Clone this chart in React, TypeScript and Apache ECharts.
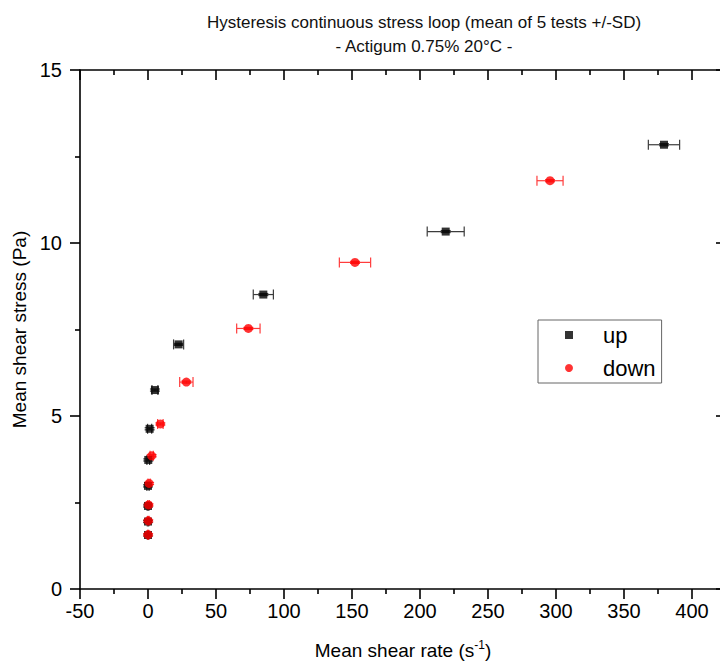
import React, { useEffect, useRef } from 'react';
import * as echarts from 'echarts';

// ---- data ----
const upX = [0, 0, 0, 0, 0.2, 1.2, 5.1, 22.5, 84.8, 218.9, 379.4];
const upY = [1.56, 1.95, 2.4, 2.98, 3.73, 4.63, 5.75, 7.07, 8.51, 10.33, 12.84];
const upXErr = [0.5, 0.5, 0.6, 0.8, 1.0, 1.5, 2.2, 3.7, 7.4, 13.6, 11.5];
const upYErr = [0.03, 0.03, 0.03, 0.03, 0.03, 0.03, 0.03, 0.03, 0.03, 0.03, 0.03];

const downX = [295.6, 152.2, 73.8, 28.2, 9.1, 2.7, 0.8, 0.4, 0.2, 0.1];
const downY = [11.8, 9.44, 7.53, 5.98, 4.77, 3.85, 3.05, 2.43, 1.97, 1.57];
const downXErr = [9.6, 11.5, 8.6, 4.9, 2.0, 1.2, 0.8, 0.6, 0.5, 0.4];
const downYErr = [0.03, 0.03, 0.03, 0.03, 0.03, 0.03, 0.03, 0.03, 0.03, 0.03];

const xMajorTicks = [-50, 0, 50, 100, 150, 200, 250, 300, 350, 400];
const xMinorTicks = [-25, 25, 75, 125, 175, 225, 275, 325, 375];

const FONT = '"Liberation Sans", Arial, Helvetica, sans-serif';
const AXIS_COLOR = '#000';
const LW = 1.6;

function errorBarSeries(xs: number[], ys: number[], xe: number[], ye: number[], color: string) {
  return {
    type: 'custom',
    xAxisIndex: 0,
    yAxisIndex: 0,
    silent: true,
    encode: { x: 0, y: 1 },
    data: xs.map((x, i) => [x, ys[i], xe[i], ye[i]]),
    renderItem: (_params: any, api: any) => {
      const x = api.value(0);
      const y = api.value(1);
      const ex = api.value(2);
      const ey = api.value(3);
      const l = api.coord([x - ex, y]);
      const r = api.coord([x + ex, y]);
      const t = api.coord([x, y + ey]);
      const b = api.coord([x, y - ey]);
      const cap = 5;
      const style = { stroke: color, lineWidth: 1.2, fill: 'none' };
      const ln = (x1: number, y1: number, x2: number, y2: number) => ({
        type: 'line',
        shape: { x1, y1, x2, y2 },
        style,
      });
      return {
        type: 'group',
        children: [
          ln(l[0], l[1], r[0], r[1]),
          ln(l[0], l[1] - cap, l[0], l[1] + cap),
          ln(r[0], r[1] - cap, r[0], r[1] + cap),
          ln(t[0], t[1], b[0], b[1]),
          ln(t[0] - cap, t[1], t[0] + cap, t[1]),
          ln(b[0] - cap, b[1], b[0] + cap, b[1]),
        ],
      };
    },
  };
}

const lineStyle = { color: AXIS_COLOR, width: LW };

export default function App() {
  const ref = useRef<HTMLDivElement>(null);

  useEffect(() => {
    if (!ref.current) return;
    const chart = echarts.init(ref.current, null, { renderer: 'svg' });

    const xBase = {
      type: 'value',
      min: -50,
      max: 425,
      splitLine: { show: false },
      minorSplitLine: { show: false },
    };

    const option: any = {
      animation: false,
      backgroundColor: '#fff',
      title: {
        text: 'Hysteresis continuous stress loop (mean of 5 tests +/-SD)\n- Actigum 0.75% 20°C -',
        left: 424,
        top: 10,
        padding: 0,
        textAlign: 'center',
        textStyle: {
          fontFamily: FONT,
          fontSize: 17,
          fontWeight: 'normal',
          lineHeight: 24,
          color: '#111',
        },
      },
      legend: {
        orient: 'vertical',
        left: 538,
        top: 320,
        padding: [2, 6, 2, 27],
        itemWidth: 8,
        itemHeight: 8,
        itemGap: 7,
        borderColor: '#666',
        borderWidth: 1,
        backgroundColor: '#fff',
        data: ['up', 'down'],
        textStyle: {
          fontFamily: FONT,
          fontSize: 22,
          lineHeight: 26,
          color: '#000',
          padding: [0, 0, 0, 25],
        },
      },
      grid: {
        left: 80,
        top: 70,
        right: 14,
        bottom: 77,
        containLabel: false,
        outerBoundsMode: 'none',
      },
      xAxis: [
        {
          ...xBase,
          position: 'bottom',
          axisLine: { show: true, onZero: false, lineStyle },
          axisTick: { show: true, customValues: xMajorTicks, length: 10, lineStyle },
          axisLabel: {
            customValues: xMajorTicks,
            fontFamily: FONT,
            fontSize: 20,
            color: '#000',
            margin: 12,
          },
          name: 'Mean shear rate (s{sup|-1})',
          nameLocation: 'middle',
          nameGap: 50,
          nameTextStyle: {
            fontFamily: FONT,
            fontSize: 19,
            color: '#000',
            lineHeight: 22,
            padding: [0, 0, 0, 0],
            rich: {
              sup: { fontFamily: FONT, fontSize: 12, color: '#000', verticalAlign: 'top', lineHeight: 12 },
            },
          },
        },
        {
          ...xBase,
          position: 'bottom',
          axisLine: { show: false, onZero: false },
          axisTick: { show: true, customValues: xMinorTicks, length: 5, lineStyle },
          axisLabel: { show: false },
        },
        {
          ...xBase,
          position: 'top',
          axisLine: { show: true, onZero: false, lineStyle },
          axisTick: { show: true, inside: true, customValues: xMajorTicks, length: 10, lineStyle },
          axisLabel: { show: false },
        },
        {
          ...xBase,
          position: 'top',
          axisLine: { show: false, onZero: false },
          axisTick: { show: true, inside: true, customValues: xMinorTicks, length: 5, lineStyle },
          axisLabel: { show: false },
        },
      ],
      yAxis: [
        {
          type: 'value',
          position: 'left',
          min: 0,
          max: 15,
          interval: 5,
          axisLine: { show: true, onZero: false, lineStyle },
          axisTick: { show: true, length: 10, lineStyle },
          minorTick: { show: true, splitNumber: 2, length: 5, lineStyle },
          splitLine: { show: false },
          minorSplitLine: { show: false },
          axisLabel: { fontFamily: FONT, fontSize: 20, color: '#000', margin: 18 },
          name: 'Mean shear stress (Pa)',
          nameLocation: 'middle',
          nameGap: 47,
          nameTextStyle: { fontFamily: FONT, fontSize: 19, color: '#000' },
        },
        {
          type: 'value',
          position: 'right',
          min: 0,
          max: 15,
          interval: 5,
          axisLine: { show: true, onZero: false, lineStyle },
          axisTick: { show: true, inside: true, length: 10, lineStyle },
          minorTick: { show: true, splitNumber: 2, length: 5, lineStyle },
          splitLine: { show: false },
          minorSplitLine: { show: false },
          axisLabel: { show: false },
        },
      ],
      series: [
        errorBarSeries(upX, upY, upXErr, upYErr, '#3c3c3c'),
        {
          type: 'scatter',
          name: 'up',
          xAxisIndex: 0,
          yAxisIndex: 0,
          symbol: 'rect',
          symbolSize: 8,
          itemStyle: { color: '#000' },
          data: upX.map((x, i) => [x, upY[i]]),
        },
        errorBarSeries(downX, downY, downXErr, downYErr, '#ff3c3c'),
        {
          type: 'scatter',
          name: 'down',
          xAxisIndex: 0,
          yAxisIndex: 0,
          symbol: 'circle',
          symbolSize: 9,
          itemStyle: { color: '#ff0000' },
          data: downX.map((x, i) => [x, downY[i]]),
        },
      ],
    };

    chart.setOption(option);
    return () => {
      chart.dispose();
    };
  }, []);

  return (
    <div
      style={{
        position: 'absolute',
        left: 0,
        top: 0,
        width: 720,
        height: 666,
        overflow: 'hidden',
        background: '#fff',
      }}
    >
      <div ref={ref} style={{ width: 740, height: 666 }} />
    </div>
  );
}
